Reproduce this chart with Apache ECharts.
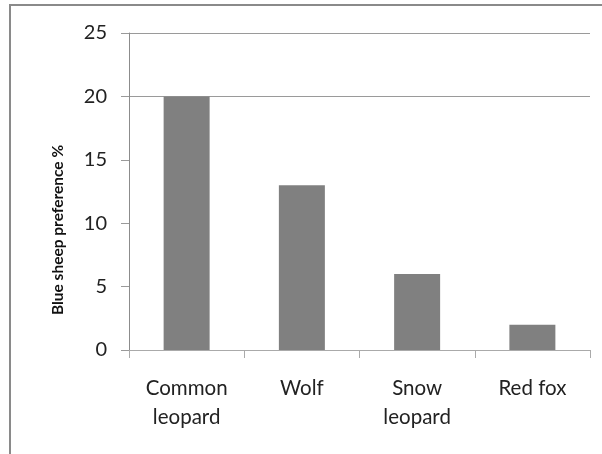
<!DOCTYPE html>
<html>
<head>
<meta charset="utf-8">
<script src="https://cdn.jsdelivr.net/npm/echarts@6/dist/echarts.min.js"></script>
<style>
  html, body { margin: 0; padding: 0; background: #fff; }
  #chart { width: 602px; height: 454px; }
</style>
</head>
<body>
<div id="chart"></div>
<script>
// Predators and their share of blue sheep in the diet
const categories = ['Common\nleopard', 'Wolf', 'Snow\nleopard', 'Red fox'];
const preference = [20, 13, 6, 2];
const yTicks = { min: 0, max: 25, interval: 5 };

const chart = echarts.init(document.getElementById('chart'), null, { renderer: 'canvas' });

chart.setOption({
  animation: false,
  backgroundColor: '#ffffff',
  grid: { left: 129, right: 12, top: 33, bottom: 104, containLabel: false },
  graphic: [
    {
      type: 'rect',
      shape: { x: 10, y: 5, width: 700, height: 600 },
      style: { fill: 'none', stroke: '#8a8a8a', lineWidth: 2 },
      silent: true
    },
    {
      type: 'text',
      x: 58,
      y: 230,
      rotation: Math.PI / 2,
      style: {
        text: 'Blue sheep preference %',
        font: 'bold 15.5px Lato',
        fill: '#111',
        align: 'center',
        verticalAlign: 'middle'
      },
      silent: true
    }
  ],
  xAxis: {
    type: 'category',
    data: categories,
    axisLine: { lineStyle: { color: '#aaaaaa', width: 1 } },
    axisTick: { show: true, length: 8, lineStyle: { color: '#aaaaaa' } },
    axisLabel: {
      color: '#222',
      fontFamily: 'Lato',
      fontSize: 20.5,
      lineHeight: 29,
      margin: 24,
      interval: 0
    },
    splitLine: { show: false }
  },
  yAxis: {
    type: 'value',
    min: yTicks.min,
    max: yTicks.max,
    interval: yTicks.interval,
    axisLine: { show: true, lineStyle: { color: '#8c8c8c', width: 1 } },
    axisTick: { show: true, length: 8, lineStyle: { color: '#9a9a9a' } },
    axisLabel: {
      color: '#222',
      fontFamily: 'Lato',
      fontSize: 20,
      margin: 22
    },
    splitLine: {
      show: true,
      lineStyle: {
        color: ['transparent', 'transparent', 'transparent', 'transparent', '#9a9a9a', '#9a9a9a'],
        width: 1
      }
    }
  },
  series: [
    {
      type: 'bar',
      data: preference,
      barWidth: 46,
      itemStyle: { color: '#808080' }
    }
  ]
});
</script>
</body>
</html>
